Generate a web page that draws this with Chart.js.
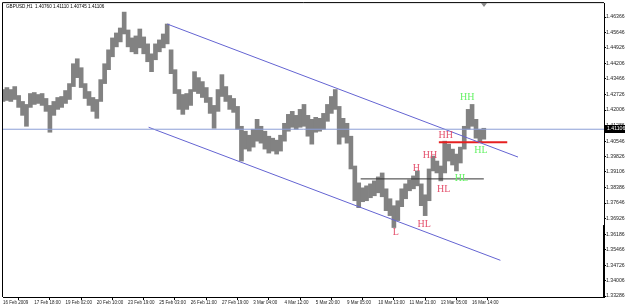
<!DOCTYPE html>
<html>
<head>
<meta charset="utf-8">
<script src="https://cdn.jsdelivr.net/npm/chart.js@4.4.0/dist/chart.umd.min.js"></script>
<style>
  body { margin: 0; background: #fff; }
  canvas { display: block; }
</style>
</head>
<body>
<canvas id="chart" width="625" height="307"></canvas>
<script>
// GBPUSD H1, one sample every 4 hourly bars (high / low)
const barsPerSample = 4;
const highs = [
  1.42968, 1.43061, 1.42968, 1.43107, 1.42688, 1.42409, 1.42269, 1.42781, 1.42828, 1.42735,
  1.42781, 1.42549, 1.42223, 1.42409, 1.42595, 1.42642, 1.42921, 1.43247, 1.44178, 1.44411,
  1.43992, 1.43247, 1.42875, 1.42595, 1.42502, 1.43433, 1.44178, 1.44830, 1.45388, 1.45621,
  1.45854, 1.46599, 1.45761, 1.45388, 1.45481, 1.45807, 1.45435, 1.45109, 1.44643, 1.45109,
  1.45295, 1.45574, 1.46040, 1.44830, 1.43899, 1.42968, 1.42735, 1.42781, 1.42968, 1.43806,
  1.43526, 1.43340, 1.43061, 1.42595, 1.42223, 1.42968, 1.43666, 1.43107, 1.42688, 1.42549,
  1.42176, 1.41245, 1.41013, 1.40826, 1.41106, 1.41571, 1.41245, 1.41013, 1.40780, 1.40687,
  1.40594, 1.40826, 1.41385, 1.41804, 1.41944, 1.41757, 1.42037, 1.42269, 1.41757, 1.41571,
  1.41664, 1.41618, 1.41850, 1.42269, 1.42642, 1.42968, 1.42176, 1.41618, 1.41385, 1.40780,
  1.39383, 1.38592, 1.38359, 1.38452, 1.38545, 1.38685, 1.38871, 1.39057, 1.38313, 1.37847,
  1.37521, 1.37754, 1.38313, 1.38545, 1.38732, 1.38918, 1.39151, 1.38545, 1.38033, 1.39244,
  1.39849, 1.39616, 1.39383, 1.40547, 1.40407, 1.40175, 1.39942, 1.40268, 1.41245, 1.42037,
  1.42269, 1.41571, 1.41106, 1.41152
];
const lows = [
  1.42409, 1.42456, 1.42409, 1.42502, 1.42130, 1.41757, 1.41245, 1.42130, 1.42269, 1.42316,
  1.42223, 1.41944, 1.40966, 1.41757, 1.42037, 1.42130, 1.42316, 1.42502, 1.43107, 1.43526,
  1.43061, 1.42549, 1.42223, 1.41944, 1.41618, 1.42409, 1.43247, 1.43899, 1.44504, 1.44969,
  1.45202, 1.45574, 1.44969, 1.44737, 1.44643, 1.44923, 1.44643, 1.44271, 1.43806, 1.44364,
  1.44737, 1.44923, 1.45109, 1.43712, 1.42781, 1.42037, 1.41804, 1.42037, 1.42223, 1.42875,
  1.42781, 1.42595, 1.42362, 1.41850, 1.41152, 1.41944, 1.42642, 1.42409, 1.42037, 1.41897,
  1.41106, 1.39616, 1.40175, 1.40082, 1.40268, 1.40547, 1.40454, 1.40175, 1.39988, 1.40082,
  1.39942, 1.40082, 1.40547, 1.41013, 1.41199, 1.41106, 1.41199, 1.41245, 1.40780, 1.40407,
  1.40966, 1.41013, 1.41106, 1.41478, 1.41850, 1.42037, 1.40407, 1.40733, 1.40454, 1.39244,
  1.37754, 1.37428, 1.37707, 1.37754, 1.37894, 1.37987, 1.38126, 1.37940, 1.37289, 1.37056,
  1.36497, 1.36823, 1.37475, 1.37847, 1.38220, 1.38313, 1.38452, 1.37521, 1.37056, 1.37754,
  1.39151, 1.39057, 1.38685, 1.39057, 1.39616, 1.39430, 1.39151, 1.39523, 1.40175, 1.41106,
  1.41245, 1.40687, 1.40500, 1.40640
];

const timeLabels = ['16 Feb 2009', '17 Feb 18:00', '19 Feb 02:00', '20 Feb 10:00', '23 Feb 19:00',
  '25 Feb 03:00', '26 Feb 11:00', '27 Feb 19:00', '3 Mar 04:00', '4 Mar 12:00', '5 Mar 20:00',
  '9 Mar 05:00', '10 Mar 13:00', '11 Mar 21:00', '13 Mar 05:00', '16 Mar 14:00'];
const barsPerLabel = 32;
const priceTicks = [1.46366, 1.45646, 1.44926, 1.44206, 1.43466, 1.42726, 1.42006, 1.41286,
  1.40546, 1.39826, 1.39106, 1.38386, 1.37646, 1.36926, 1.36186, 1.35466, 1.34726, 1.34006, 1.33286];

const bid = 1.41106;
const header = 'GBPUSD,H1  1.40760 1.41110 1.40745 1.41106';

// drawn objects, in bar index / price
const upperChannel = [{ x: 168, y: 1.46040 }, { x: 527, y: 1.39802 }];
const lowerChannel = [{ x: 149, y: 1.41199 }, { x: 509, y: 1.34961 }];
const blackLevel = [{ x: 366, y: 1.38778 }, { x: 492, y: 1.38778 }];
const redLevel = [{ x: 446, y: 1.40500 }, { x: 516, y: 1.40500 }];
const bidLine = [{ x: 0, y: bid }, { x: 615, y: bid }];

const red = '#e4506c';
const green = '#66f266';
const marks = [
  { text: 'L', x: 402, y: 1.36264, color: red },
  { text: 'HL', x: 431, y: 1.36637, color: red },
  { text: 'H', x: 423, y: 1.39290, color: red },
  { text: 'HH', x: 437, y: 1.39895, color: red },
  { text: 'HL', x: 451, y: 1.38266, color: red },
  { text: 'HH', x: 453, y: 1.40826, color: red },
  { text: 'HL', x: 469, y: 1.38825, color: green },
  { text: 'HH', x: 475, y: 1.42595, color: green },
  { text: 'HL', x: 489, y: 1.40128, color: green }
];

const priceBars = highs.map((h, i) => ({ x: i * barsPerSample, y: [lows[i], h] }));

function lineSet(data, color, width) {
  return { type: 'line', data: data, borderColor: color, borderWidth: width, pointRadius: 0, fill: false };
}

const extras = {
  id: 'extras',
  afterDatasetsDraw(chart) {
    const { ctx, scales } = chart;
    ctx.save();
    ctx.font = '10px "Liberation Serif"';
    ctx.textAlign = 'center';
    ctx.textBaseline = 'middle';
    marks.forEach(m => {
      ctx.fillStyle = m.color;
      ctx.fillText(m.text, scales.x.getPixelForValue(m.x), scales.y.getPixelForValue(m.y));
    });
    ctx.restore();
  },
  afterDraw(chart) {
    const { ctx, chartArea, scales } = chart;
    ctx.save();
    ctx.strokeStyle = '#000';
    ctx.lineWidth = 1;
    ctx.beginPath();
    ctx.moveTo(chartArea.left - 0.5, chartArea.bottom);
    ctx.lineTo(chartArea.left - 0.5, chartArea.top - 0.5);
    ctx.lineTo(chartArea.right, chartArea.top - 0.5);
    ctx.stroke();

    // scroll marker on the price axis
    const yTop = scales.y.getPixelForValue(1.36614);
    ctx.fillStyle = '#000';
    ctx.fillRect(chartArea.right - 1, yTop, 2, chartArea.bottom - yTop);

    // bid box
    const yb = Math.round(scales.y.getPixelForValue(bid));
    ctx.fillStyle = '#000';
    ctx.fillRect(chartArea.right + 1, yb - 4, 21, 8);
    ctx.fillStyle = '#fff';
    ctx.font = '5.2px "Liberation Sans"';
    ctx.textBaseline = 'middle';
    ctx.fillText(bid.toFixed(5), chartArea.right + 3, yb);

    ctx.fillStyle = '#000';
    ctx.font = '4.6px "Liberation Sans"';
    ctx.textBaseline = 'top';
    ctx.fillText(header, 6, 4);

    // chart shift marker
    ctx.fillStyle = '#888';
    ctx.beginPath();
    ctx.moveTo(481, chartArea.top);
    ctx.lineTo(487, chartArea.top);
    ctx.lineTo(484, chartArea.top + 4);
    ctx.fill();
    ctx.restore();
  }
};

new Chart(document.getElementById('chart'), {
  type: 'bar',
  data: {
    datasets: [
      lineSet(bidLine, '#8c9ed6', 1),
      lineSet(upperChannel, '#6464d2', 1),
      lineSet(lowerChannel, '#6464d2', 1),
      lineSet(blackLevel, '#333333', 1),
      lineSet(redLevel, '#e62020', 2),
      {
        type: 'bar',
        data: priceBars,
        backgroundColor: '#828282',
        barThickness: 4,
        borderWidth: 0
      }
    ]
  },
  options: {
    responsive: false,
    animation: false,
    devicePixelRatio: 1,
    layout: { padding: { left: 3, top: 2, right: 0, bottom: 0 } },
    plugins: { legend: { display: false }, tooltip: { enabled: false } },
    scales: {
      x: {
        type: 'linear',
        min: 0,
        max: 615,
        offset: false,
        afterBuildTicks: scale => {
          scale.ticks = timeLabels.map((t, i) => ({ value: i * barsPerLabel }));
        },
        afterFit: scale => { scale.height = 10; },
        ticks: {
          autoSkip: false,
          maxRotation: 0,
          align: 'start',
          padding: 0,
          color: '#222',
          font: { family: 'Liberation Sans', size: 4.5 },
          callback: (v, i) => timeLabels[i]
        },
        grid: { drawOnChartArea: false, tickLength: 3, color: '#000' },
        border: { display: true, color: '#000' }
      },
      y: {
        position: 'right',
        min: 1.3324,
        max: 1.4702,
        afterBuildTicks: scale => {
          scale.ticks = priceTicks.map(v => ({ value: v }));
        },
        afterFit: scale => { scale.width = 21; },
        ticks: {
          autoSkip: false,
          padding: 0,
          color: '#222',
          font: { family: 'Liberation Sans', size: 5.2 },
          callback: v => v.toFixed(5)
        },
        grid: { drawOnChartArea: false, tickLength: 2, color: '#000' },
        border: { display: true, color: '#000' }
      }
    }
  },
  plugins: [extras]
});
</script>
</body>
</html>
